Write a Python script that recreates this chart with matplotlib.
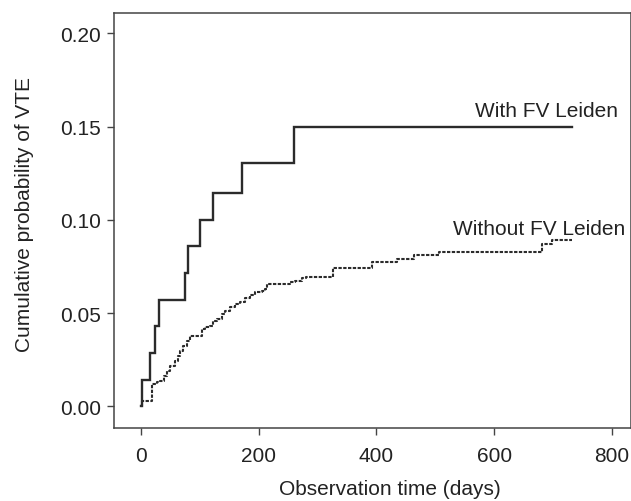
import matplotlib
matplotlib.use("Agg")
import matplotlib.pyplot as plt

plt.rcParams['font.family'] = ['Liberation Sans', 'DejaVu Sans']

# cumulative probability of VTE (step curves)
fvl_days = [0, 3, 16, 24, 31, 76, 81, 101, 123, 172, 260, 732]
fvl_cum = [0.0, 0.0143, 0.0286, 0.0429, 0.0571, 0.0714, 0.0857, 0.100,
           0.1143, 0.1306, 0.1496, 0.1496]

no_fvl_days = [0, 3, 20, 27, 33, 39, 44, 50, 58, 64, 67, 72, 78, 84, 104,
               109, 118, 123, 129, 138, 143, 152, 160, 169, 177, 186, 194,
               206, 211, 215, 254, 262, 274, 280, 327, 392, 435, 463, 507,
               681, 698, 732]
no_fvl_cum = [0.0, 0.003, 0.012, 0.0129, 0.0137, 0.0164, 0.0191, 0.0218,
              0.0245, 0.0271, 0.0298, 0.0325, 0.0352, 0.0375, 0.0414, 0.0424,
              0.0433, 0.0459, 0.0468, 0.0495, 0.0513, 0.0531, 0.0549, 0.0561,
              0.0579, 0.0597, 0.0611, 0.062, 0.0629, 0.0656, 0.0665, 0.0673,
              0.0686, 0.0695, 0.0741, 0.0775, 0.079, 0.0811, 0.0826, 0.0871,
              0.0893, 0.0893]

x_ticks = [0, 200, 400, 600, 800]
y_ticks = [0.00, 0.05, 0.10, 0.15, 0.20]

fig = plt.figure(figsize=(6.31, 5.02), dpi=100)
ax = fig.add_axes([0.1799, 0.1448, 0.8201, 0.8273])

line_col = '#2b2b2b'
ax.step(fvl_days, fvl_cum, where='post', color=line_col, lw=1.7,
        solid_joinstyle='miter')
ax.step(no_fvl_days, no_fvl_cum, where='post', color=line_col, lw=1.5,
        linestyle=(0, (1.6, 0.7)))

ax.text(810, 0.1557, 'With FV Leiden', ha='right', va='baseline',
        fontsize=15, color='#222222')
ax.text(822, 0.0924, 'Without FV Leiden', ha='right', va='baseline',
        fontsize=15, color='#222222')

ax.set_xlim(-46, 832)
ax.set_ylim(-0.0118, 0.2109)
ax.set_xticks(x_ticks)
ax.set_yticks(y_ticks)
ax.set_yticklabels(['%.2f' % v for v in y_ticks])

for sp in ax.spines.values():
    sp.set_color('#444444')
    sp.set_linewidth(1.1)

ax.tick_params(direction='out', length=5, width=1.0, color='#444444',
               labelsize=15, labelcolor='#222222')
ax.tick_params(axis='y', pad=4)
ax.tick_params(axis='x', pad=8)

ax.set_xlabel('Observation time (days)', fontsize=15, color='#222222',
              labelpad=10)
ax.set_ylabel('Cumulative probability of VTE', fontsize=15, color='#222222',
              labelpad=19)
ax.xaxis.label.set_x(0.534)
ax.yaxis.label.set_y(0.518)

fig.savefig('out.png', dpi=100)
